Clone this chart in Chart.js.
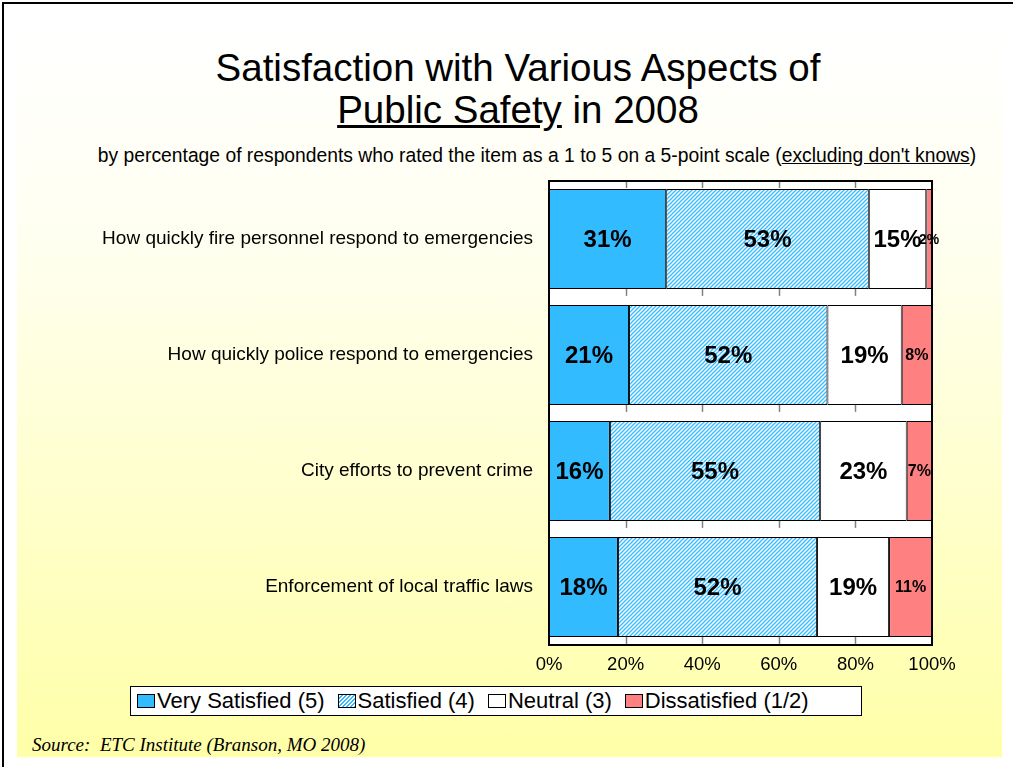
<!DOCTYPE html>
<html>
<head>
<meta charset="utf-8">
<script src="https://cdn.jsdelivr.net/npm/chart.js@4/dist/chart.umd.min.js"></script>
<style>
  html, body { margin: 0; padding: 0; background: #fff; }
  body { width: 1013px; height: 767px; position: relative; overflow: hidden; font-family: Arial, "Liberation Sans", sans-serif; }
  #frame { position: absolute; left: 2px; top: 2px; width: 1020px; height: 780px; border-left: 2px solid #000; border-top: 2px solid #000; }
  #bg { position: absolute; left: 17px; top: 25px; width: 985px; height: 732px; background: linear-gradient(to bottom, #ffffff 0%, #fffff0 30%, #ffffa8 100%); }
  #title { position: absolute; left: 0; width: 1036px; top: 47px; text-align: center; font-size: 38.5px; line-height: 42px; color: #000; white-space: nowrap; }
  #subtitle { position: absolute; left: 0; width: 1074px; top: 145px; text-align: center; font-size: 19.3px; line-height: 22px; color: #000; white-space: nowrap; }
  #chart { position: absolute; left: 0; top: 170px; }
  #legend { position: absolute; left: 130px; top: 686px; width: 732px; height: 30px; background: #fff; border: 1px solid #000; display: flex; align-items: center; font-size: 22px; padding-left: 6px; box-sizing: border-box; white-space: nowrap; }
  .item { display: flex; align-items: center; margin-right: 13px; }
  .sw { width: 16px; height: 12px; border: 1px solid #000; margin-right: 2px; }
  #source { position: absolute; left: 32px; top: 734px; font-family: "Liberation Serif", "Times New Roman", serif; font-style: italic; font-size: 19px; line-height: 22px; white-space: nowrap; }
</style>
</head>
<body>
<div id="frame"></div>
<div id="bg"></div>
<div id="title">Satisfaction with Various Aspects of<br><u>Public Safety</u> in 2008</div>
<div id="subtitle">by percentage of respondents who rated the item as a 1 to 5 on a 5-point scale (<u>excluding don't knows</u>)</div>
<canvas id="chart" width="1013" height="510"></canvas>
<div id="legend"></div>
<div id="source">Source:&nbsp; ETC Institute (Branson, MO 2008)</div>
<script>
// categories and series (percent of respondents)
const categories = [
    'How quickly fire personnel respond to emergencies',
    'How quickly police respond to emergencies',
    'City efforts to prevent crime',
    'Enforcement of local traffic laws'
];
const seriesNames = ['Very Satisfied (5)', 'Satisfied (4)', 'Neutral (3)', 'Dissatisfied (1/2)'];
const verySatisfied = [30.6, 20.9, 15.9, 18.0];
const satisfied = [52.9, 51.8, 54.9, 52.0];
const neutral = [15.0, 19.4, 22.6, 18.8];
const dissatisfied = [1.5, 7.9, 6.6, 11.2];
const xTicks = [0, 20, 40, 60, 80, 100];

const FONT = 'Arial, "Liberation Sans", sans-serif';

function makeHatch() {
    const c = document.createElement('canvas');
    c.width = 4; c.height = 4;
    const g = c.getContext('2d');
    g.fillStyle = '#ffffff';
    g.fillRect(0, 0, 4, 4);
    g.strokeStyle = '#33bbff';
    g.lineWidth = 1.3;
    g.beginPath();
    g.moveTo(-1, 5); g.lineTo(5, -1);
    g.moveTo(-1, 1); g.lineTo(1, -1);
    g.moveTo(3, 5); g.lineTo(5, 3);
    g.stroke();
    return document.getElementById('chart').getContext('2d').createPattern(c, 'repeat');
}

const hatch = makeHatch();
const fills = ['#33bbff', hatch, '#ffffff', '#ff8080'];
const values = [verySatisfied, satisfied, neutral, dissatisfied];

// legend
const legendEl = document.getElementById('legend');
seriesNames.forEach((name, i) => {
    const item = document.createElement('div');
    item.className = 'item';
    const sw = document.createElement('div');
    sw.className = 'sw';
    if (i === 1) {
        sw.style.background = 'repeating-linear-gradient(-45deg, #33bbff 0 1.3px, #fff 1.3px 2.8px)';
    } else {
        sw.style.background = fills[i];
    }
    const txt = document.createElement('span');
    txt.textContent = name;
    item.appendChild(sw);
    item.appendChild(txt);
    legendEl.appendChild(item);
});

const plotFrame = {
    id: 'plotFrame',
    beforeDraw(chart) {
        const a = chart.chartArea, ctx = chart.ctx;
        ctx.save();
        ctx.fillStyle = '#ffffff';
        ctx.fillRect(a.left, a.top, a.right - a.left, a.bottom - a.top);
        ctx.restore();
    },
    beforeDatasetsDraw(chart) {
        // short gray grid marks at the top of each gap between bars
        const a = chart.chartArea, ctx = chart.ctx, xs = chart.scales.x;
        const bars = chart.getDatasetMeta(0).data;
        const tops = [a.top].concat(bars.map(b => b.y + b.height / 2));
        ctx.save();
        ctx.strokeStyle = '#808080';
        ctx.lineWidth = 1.5;
        xTicks.slice(1, -1).forEach(v => {
            const px = Math.round(xs.getPixelForValue(v)) + 0.5;
            tops.forEach(t => {
                ctx.beginPath();
                ctx.moveTo(px, t);
                ctx.lineTo(px, t + 7);
                ctx.stroke();
            });
        });
        ctx.restore();
    },
    afterDraw(chart) {
        const a = chart.chartArea, ctx = chart.ctx;
        ctx.save();
        ctx.strokeStyle = '#000';
        ctx.lineWidth = 2;
        ctx.strokeRect(a.left, a.top, a.right - a.left, a.bottom - a.top);
        ctx.restore();
    }
};

const barLabels = {
    id: 'barLabels',
    afterDatasetsDraw(chart) {
        const ctx = chart.ctx;
        ctx.save();
        ctx.fillStyle = '#000';
        ctx.textAlign = 'center';
        ctx.textBaseline = 'middle';
        chart.data.datasets.forEach((ds, di) => {
            chart.getDatasetMeta(di).data.forEach((bar, i) => {
                const v = ds.data[i];
                let size = 24;
                if (v < 12) size = 16;
                if (v < 3) size = 14;
                ctx.font = 'bold ' + size + 'px ' + FONT;
                ctx.fillText(Math.round(v) + '%', (bar.x + bar.base) / 2, bar.y + 1);
            });
        });
        ctx.restore();
    }
};

new Chart(document.getElementById('chart'), {
    type: 'bar',
    data: {
        labels: categories,
        datasets: seriesNames.map((name, i) => ({
            label: name,
            data: values[i],
            backgroundColor: fills[i],
            borderColor: '#000',
            borderWidth: 1,
            borderSkipped: false,
            barPercentage: 0.86,
            categoryPercentage: 1
        }))
    },
    options: {
        indexAxis: 'y',
        responsive: false,
        animation: false,
        devicePixelRatio: 1,
        layout: { padding: { left: 0, right: 81, top: 11, bottom: 0 } },
        plugins: {
            legend: { display: false },
            tooltip: { enabled: false }
        },
        scales: {
            x: {
                stacked: true,
                min: 0,
                max: 100,
                afterBuildTicks(scale) { scale.ticks = xTicks.map(v => ({ value: v })); },
                afterFit(scale) {
                    scale.height = 35;
                    scale.paddingLeft = 0;
                    scale.paddingRight = 0;
                },
                grid: { display: false, drawTicks: false },
                border: { display: false },
                ticks: {
                    padding: 9,
                    color: '#000',
                    font: { family: FONT, size: 18.5 },
                    callback: v => v + '%'
                }
            },
            y: {
                stacked: true,
                afterFit(scale) {
                    scale.width = 549;
                    scale.paddingTop = 0;
                    scale.paddingBottom = 0;
                },
                grid: { display: false, drawTicks: false },
                border: { display: false },
                ticks: {
                    padding: 16,
                    color: '#000',
                    font: { family: FONT, size: 19 }
                }
            }
        }
    },
    plugins: [plotFrame, barLabels]
});
</script>
</body>
</html>
